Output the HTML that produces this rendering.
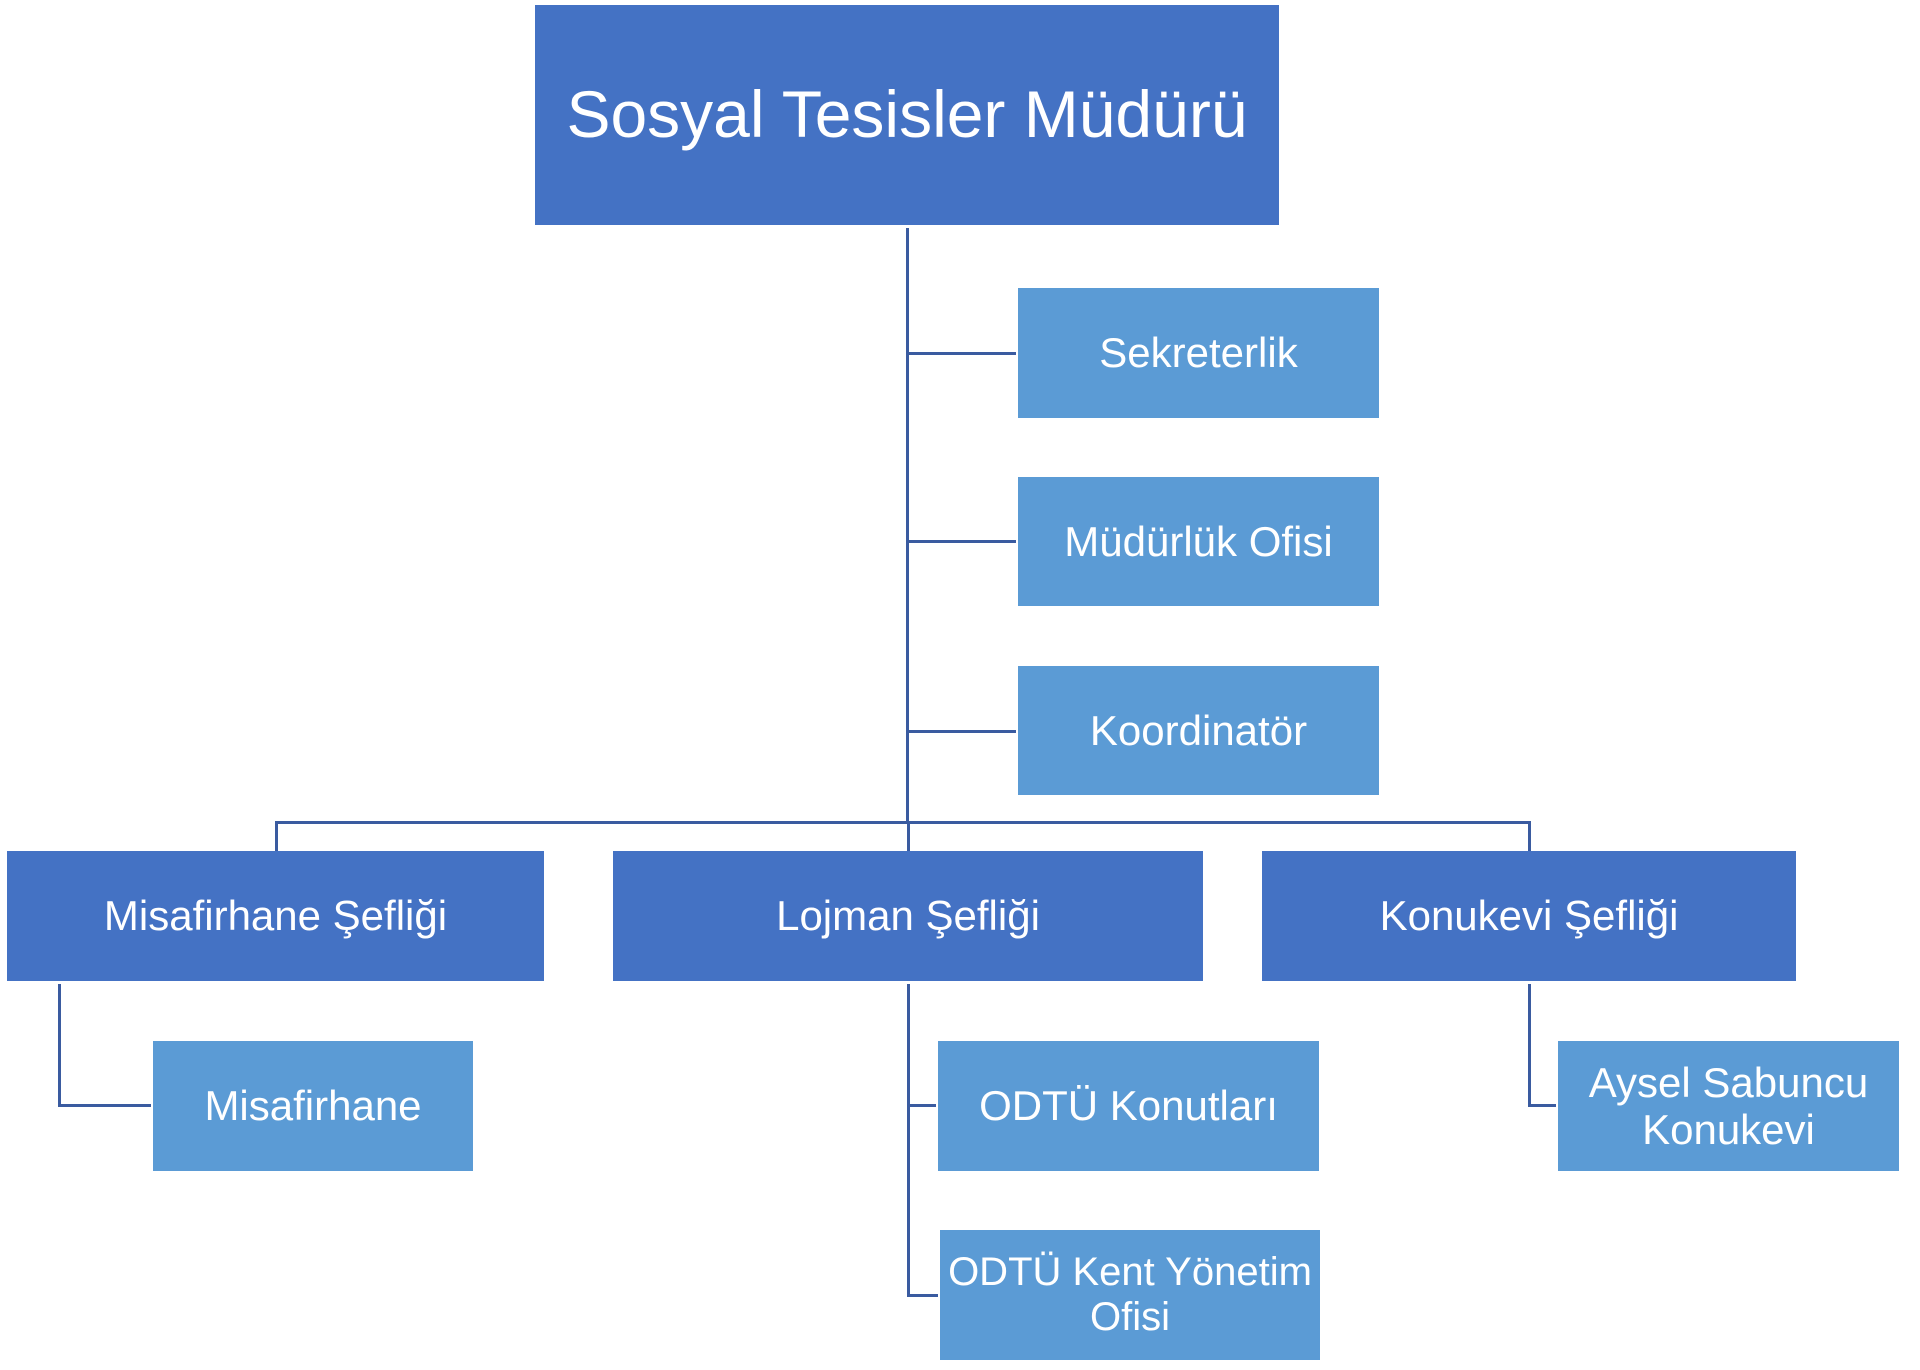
<!DOCTYPE html>
<html><head><meta charset="utf-8"><style>
body{margin:0;width:1920px;height:1370px;background:#fff;position:relative;overflow:hidden;font-family:"Liberation Sans",sans-serif}
.b{position:absolute;display:flex;align-items:center;justify-content:center;text-align:center;color:#fff;font-size:42px;line-height:1.13;white-space:nowrap}
.d{background:#4472C4}.l{background:#5B9BD5}
.ln{position:absolute;background:#3A5BA0}
</style></head><body>
<div class="b d" style="left:535px;top:5px;width:744px;height:220px;font-size:66px;box-sizing:border-box;align-items:flex-start;padding-top:72px">Sosyal Tesisler Müdürü</div>

<div class="ln" style="left:906px;top:228px;width:3px;height:596px"></div>
<div class="ln" style="left:906px;top:352px;width:110px;height:3px"></div>
<div class="ln" style="left:906px;top:540px;width:110px;height:3px"></div>
<div class="ln" style="left:906px;top:730px;width:110px;height:3px"></div>
<div class="b l" style="left:1018px;top:288px;width:361px;height:130px">Sekreterlik</div>
<div class="b l" style="left:1018px;top:477px;width:361px;height:129px">Müdürlük Ofisi</div>
<div class="b l" style="left:1018px;top:666px;width:361px;height:129px">Koordinatör</div>

<div class="ln" style="left:275px;top:821px;width:1256px;height:3px"></div>
<div class="ln" style="left:275px;top:821px;width:3px;height:30px"></div>
<div class="ln" style="left:907px;top:821px;width:3px;height:30px"></div>
<div class="ln" style="left:1528px;top:821px;width:3px;height:30px"></div>

<div class="b d" style="left:7px;top:851px;width:537px;height:130px">Misafirhane Şefliği</div>
<div class="b d" style="left:613px;top:851px;width:590px;height:130px">Lojman Şefliği</div>
<div class="b d" style="left:1262px;top:851px;width:534px;height:130px">Konukevi Şefliği</div>

<div class="ln" style="left:58px;top:984px;width:3px;height:122px"></div>
<div class="ln" style="left:58px;top:1104px;width:93px;height:3px"></div>
<div class="b l" style="left:153px;top:1041px;width:320px;height:130px">Misafirhane</div>

<div class="ln" style="left:907px;top:984px;width:3px;height:313px"></div>
<div class="ln" style="left:907px;top:1104px;width:29px;height:3px"></div>
<div class="ln" style="left:907px;top:1294px;width:31px;height:3px"></div>
<div class="b l" style="left:938px;top:1041px;width:381px;height:130px">ODTÜ Konutları</div>
<div class="b l" style="left:940px;top:1230px;width:380px;height:130px;font-size:40px">ODTÜ Kent Yönetim<br>Ofisi</div>

<div class="ln" style="left:1528px;top:984px;width:3px;height:122px"></div>
<div class="ln" style="left:1528px;top:1104px;width:28px;height:3px"></div>
<div class="b l" style="left:1558px;top:1041px;width:341px;height:130px">Aysel Sabuncu<br>Konukevi</div>
</body></html>
